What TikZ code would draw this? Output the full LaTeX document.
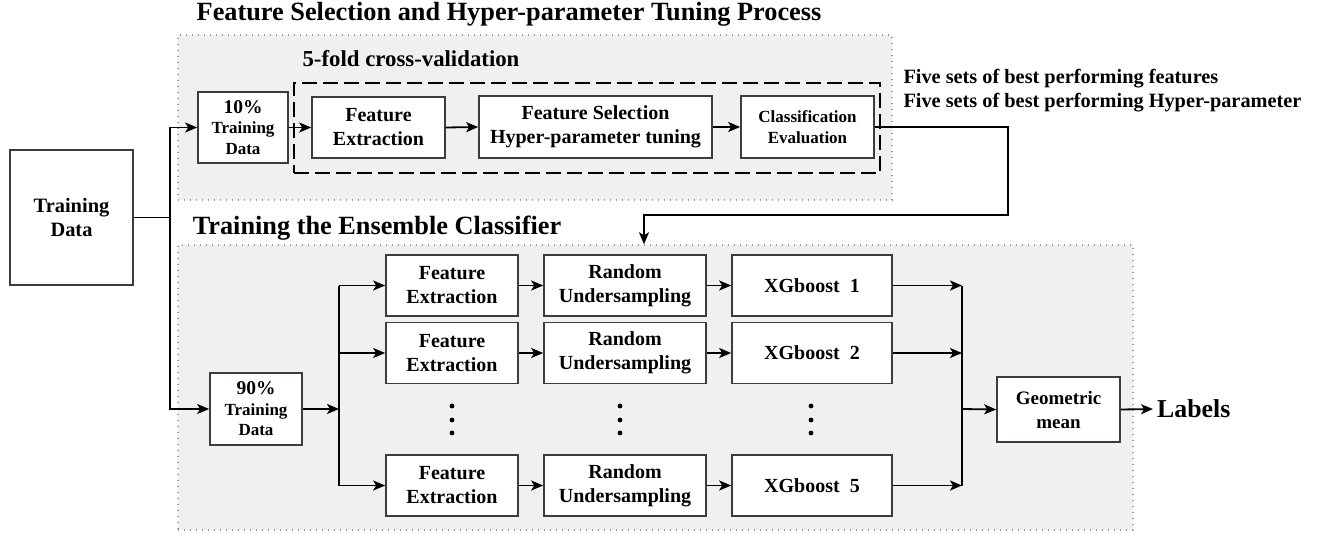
\documentclass[tikz,border=0pt]{standalone}
\usepackage{fontspec}
\setmainfont{Liberation Serif}
\usetikzlibrary{arrows.meta}
\definecolor{panel}{RGB}{239,240,241}
\definecolor{edge}{RGB}{60,60,60}
\newcommand{\fsz}[2]{\bfseries\fontsize{#1}{#2}\selectfont}
\tikzset{
  box/.style={draw=edge, line width=1.7pt, fill=white, align=center, inner sep=1pt},
  boxtext/.style={font=\fsz{20}{24}},
  smalltext/.style={font=\fsz{17}{20.5}},
  region/.style={draw=gray!80, line width=1.4pt, dash pattern=on 1.4pt off 4.6pt, fill=panel, inner sep=0pt},
  cvbox/.style={draw=black, line width=2.6pt, dash pattern=on 15pt off 6pt, inner sep=0pt},
  title/.style={font=\fsz{26.3}{28}},
  note/.style={font=\fsz{20.3}{24}, anchor=west},
  conn/.style={line width=1.8pt, draw=black},
  arr/.style={conn, -{Stealth[length=12pt,width=10pt,inset=3pt]}},
}
\begin{document}
\begin{tikzpicture}[x=1pt, y=-1pt]
\useasboundingbox (0,0) rectangle (1331,533);

% shaded panels
\node[region, minimum width=714pt, minimum height=165pt] (fsr) at (535,117.5) {};
\node[region, minimum width=955pt, minimum height=285pt] (ens) at (655.5,387.5) {};
\node[cvbox, minimum width=586pt, minimum height=90pt] (cv) at (587,128) {};

% headings
\node[title] (t1) at (509,14) {Feature Selection and Hyper-parameter Tuning Process};
\node[font=\fsz{22.8}{24}] (t2) at (411,59) {5-fold cross-validation};
\node[title] (t3) at (377,228) {Training the Ensemble Classifier};
\node[note] (n1) at (900,79) {Five sets of best performing features};
\node[note] (n2) at (900,103) {Five sets of best performing Hyper-parameter};

% input
\node[box, font=\fsz{20.4}{24}, minimum width=123pt, minimum height=135pt] (td) at (71.5,217.5) {Training\\Data};

% tuning stage
\node[box, smalltext, minimum width=90pt, minimum height=71pt] (td10) at (243,127.5) {{\fontsize{19.5}{20}\selectfont 10\%}\\Training\\Data};
\node[box, boxtext, minimum width=133pt, minimum height=61pt] (fe0) at (378.5,127.5) {Feature\\Extraction};
\node[box, boxtext, minimum width=233pt, minimum height=62pt] (fs) at (595.5,127) {Feature Selection\\Hyper-parameter tuning};
\node[box, smalltext, minimum width=133pt, minimum height=62pt] (ce) at (807.5,127) {Classification\\Evaluation};

% ensemble stage
\node[box, smalltext, minimum width=92pt, minimum height=72pt] (td90) at (256,409) {{\fontsize{19.5}{20}\selectfont 90\%}\\Training\\Data};
\foreach \r/\y in {1/285.5, 2/353, 5/485.5} {
  \node[box, boxtext, minimum width=132pt, minimum height=61pt] (fe\r) at (452,\y) {Feature\\Extraction};
  \node[box, boxtext, minimum width=162pt, minimum height=61pt] (ru\r) at (625,\y) {Random\\Undersampling};
  \node[box, boxtext, minimum width=160pt, minimum height=61pt] (xg\r) at (812,\y) {XGboost~~\r};
}
\node[box, font=\fsz{19}{24}, minimum width=123pt, minimum height=65pt] (gm) at (1058.5,409.5) {Geometric\\mean};
\node[font=\fsz{25.8}{28}, anchor=west, inner sep=0pt] (lab) at (1157,409) {Labels};

% omitted rows
\foreach \x in {452,620,811}
  \foreach \y in {406,420,433}
    \fill (\x,\y) circle (2.4pt);

% junctions
\coordinate (sp) at (339,409);
\coordinate (mg) at (962,409);
\coordinate (fb1) at (1008,127);
\coordinate (fb2) at (644,215);

% connectors
\draw[arr] (td.east) -- ++(36,0) |- (td10.west);
\draw[arr] (td.east) -- ++(36,0) |- (td90.west);
\draw[arr] (td10.east) -- (fe0.west);
\draw[arr] (fe0.east) -- (fs.west);
\draw[arr] (fs.east) -- (ce.west);
\draw[arr] (ce.east) -- (fb1) |- (fb2) -- (fb2 |- ens.north);

\draw[arr] (td90.east) -- (sp);
\draw[conn] (sp |- fe1.west) -- (sp |- fe5.west);
\foreach \r in {1,2,5} {
  \draw[arr] (sp |- fe\r.west) -- (fe\r.west);
  \draw[arr] (fe\r.east) -- (ru\r.west);
  \draw[arr] (ru\r.east) -- (xg\r.west);
  \draw[arr] (xg\r.east) -- (mg |- xg\r.east);
}
\draw[conn] (mg |- xg1.east) -- (mg |- xg5.east);
\draw[arr] (mg) -- (gm.west);
\draw[arr] (gm.east) -- ([xshift=-4pt]lab.west);
\end{tikzpicture}
\end{document}
